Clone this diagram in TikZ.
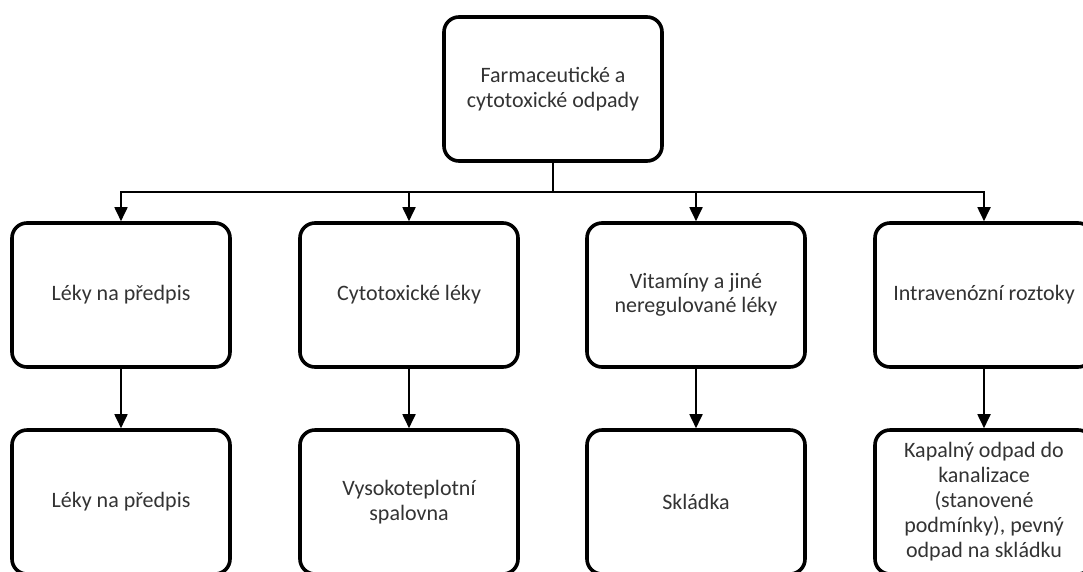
\documentclass[tikz,border=0pt]{standalone}
\usepackage{fontspec}
\setmainfont{Carlito}
\usetikzlibrary{arrows.meta}
\begin{document}
\begin{tikzpicture}[x=1pt,y=-1pt,
  box/.style={draw=black, fill=white, line width=3.6pt, rounded corners=15pt,
    minimum width=218pt, minimum height=144pt, align=center, inner sep=2pt,
    text=black!80, font=\fontsize{22}{24.5}\selectfont},
  conn/.style={draw=black, line width=1.8pt},
  arr/.style={conn, -{Triangle[length=14pt,width=13pt]}}]
\useasboundingbox (0,0) rectangle (1083,571);
\fill[white] (0,0) rectangle (1083,571);
\clip (0,0) rectangle (1083,571);
\node[box] (top) at (553,89) {Farmaceutické a\\cytotoxické odpady};
\node[box] (a1) at (121,295) {Léky na předpis};
\node[box] (a2) at (409,295) {Cytotoxické léky};
\node[box] (a3) at (696,295) {Vitamíny a jiné\\neregulované léky};
\node[box] (a4) at (984,295) {Intravenózní roztoky};
\node[box] (b1) at (121,502) {Léky na předpis};
\node[box] (b2) at (409,502) {Vysokoteplotní\\spalovna};
\node[box] (b3) at (696,502) {Skládka};
\node[box, font=\fontsize{22}{25}\selectfont] (b4) at (984,502) {Kapalný odpad do\\kanalizace\\(stanovené\\podmínky), pevný\\odpad na skládku};
\coordinate (bus) at (553,192);
\draw[conn] (top.south) -- (bus);
\draw[arr] (bus) -| (a1.north);
\draw[arr] (bus) -| (a2.north);
\draw[arr] (bus) -| (a3.north);
\draw[arr] (bus) -| (a4.north);
\draw[arr] (a1.south) -- (b1.north);
\draw[arr] (a2.south) -- (b2.north);
\draw[arr] (a3.south) -- (b3.north);
\draw[arr] (a4.south) -- (b4.north);
\end{tikzpicture}
\end{document}
